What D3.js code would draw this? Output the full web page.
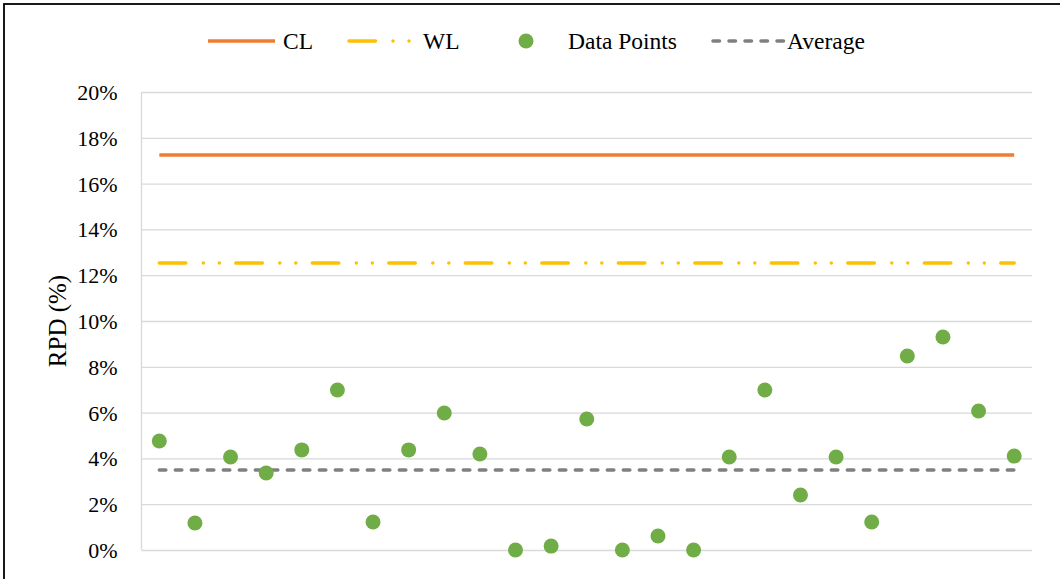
<!DOCTYPE html>
<html>
<head>
<meta charset="utf-8">
<script src="https://cdn.jsdelivr.net/npm/d3@7"></script>
<style>
  html, body { margin: 0; padding: 0; background: #fff; }
  svg { display: block; }
  text { font-family: "Liberation Serif", "Times New Roman", serif; fill: #000; }
</style>
</head>
<body>
<svg id="chart" width="1060" height="579"></svg>
<script>
// ---- data ----
const categories = d3.range(1, 26);
const rpdValues = [4.76, 1.18, 4.06, 3.36, 4.37, 6.99, 1.22, 4.37, 5.98, 4.19,
                   0.00, 0.17, 5.72, 0.00, 0.61, 0.00, 4.06, 6.99, 2.40, 4.06,
                   1.22, 8.47, 9.30, 6.07, 4.10];
const clValue = 17.25;
const wlValue = 12.53;
const avgValue = 3.49;
const yTicks = [0, 2, 4, 6, 8, 10, 12, 14, 16, 18, 20];
const legendLabels = ["CL", "WL", "Data Points", "Average"];

// ---- layout ----
const svg = d3.select("#chart");
const W = 1060, H = 579;
const plot = { left: 141.5, right: 1032, top: 92, bottom: 550 };

const colors = { cl: "#ED7D31", wl: "#FFC000", pts: "#70AD47", avg: "#7F7F7F", grid: "#D9D9D9" };

// outer frame (cropped on right/bottom)
svg.append("rect").attr("x", 4).attr("y", 4).attr("width", W + 20).attr("height", H + 20)
  .attr("fill", "none").attr("stroke", "#000").attr("stroke-width", 1.8);

const x = d3.scaleBand().domain(categories).range([plot.left, plot.right]).padding(0);
const cx = d => x(d) + x.bandwidth() / 2;
const y = d3.scaleLinear().domain([0, 20]).range([plot.bottom, plot.top]);

// gridlines
const yAxis = d3.axisLeft(y).tickValues(yTicks).tickSize(-(plot.right - plot.left))
  .tickFormat(d => d + "%").tickPadding(24);
const gy = svg.append("g").attr("transform", `translate(${plot.left},0)`).call(yAxis);
gy.select(".domain").attr("stroke", colors.grid).attr("stroke-width", 1.3)
  .attr("d", `M0,${plot.top}V${plot.bottom}`);
gy.selectAll(".tick line").attr("stroke", colors.grid).attr("stroke-width", 1.3);
gy.selectAll(".tick text").attr("font-size", "22px")
  .attr("font-family", '"Liberation Serif", "Times New Roman", serif')
  .attr("fill", "#000").attr("dy", "0.34em");

// axis title
svg.append("text")
  .attr("transform", `translate(66,${(plot.top + plot.bottom) / 2}) rotate(-90)`)
  .attr("text-anchor", "middle").attr("font-size", "25px").text("RPD (%)");

// reference lines
const first = categories[0], last = categories[categories.length - 1];
function hline(val, color, width, dash) {
  const l = svg.append("line")
    .attr("x1", cx(first)).attr("x2", cx(last))
    .attr("y1", y(val)).attr("y2", y(val))
    .attr("stroke", color).attr("stroke-width", width);
  if (dash) l.attr("stroke-dasharray", dash).attr("stroke-linecap", "round");
  return l;
}
const wlDash = "26.5,17.5,0,16,0,16.5";
const avgDash = "6.5,9.5";
hline(clValue, colors.cl, 3.5, null);
hline(wlValue, colors.wl, 3.5, wlDash);
hline(avgValue, colors.avg, 3.5, avgDash);

// points
svg.append("g").selectAll("circle").data(rpdValues).enter().append("circle")
  .attr("cx", (d, i) => cx(categories[i]))
  .attr("cy", d => y(d))
  .attr("r", 7.5)
  .attr("fill", colors.pts);

// legend
const ly = 41;
const lg = svg.append("g");
lg.append("line").attr("x1", 208).attr("x2", 275).attr("y1", ly).attr("y2", ly)
  .attr("stroke", colors.cl).attr("stroke-width", 3.5);
lg.append("text").attr("x", 283).attr("y", ly).attr("dy", "0.33em").attr("font-size", "23.5px").text(legendLabels[0]);

lg.append("line").attr("x1", 349).attr("x2", 410).attr("y1", ly).attr("y2", ly)
  .attr("stroke", colors.wl).attr("stroke-width", 3.5)
  .attr("stroke-dasharray", wlDash).attr("stroke-linecap", "round");
lg.append("text").attr("x", 423).attr("y", ly).attr("dy", "0.33em").attr("font-size", "23.5px").text(legendLabels[1]);

lg.append("circle").attr("cx", 526).attr("cy", ly).attr("r", 7.5).attr("fill", colors.pts);
lg.append("text").attr("x", 568).attr("y", ly).attr("dy", "0.33em").attr("font-size", "23.5px").text(legendLabels[2]);

lg.append("line").attr("x1", 713).attr("x2", 784).attr("y1", ly).attr("y2", ly)
  .attr("stroke", colors.avg).attr("stroke-width", 3.5)
  .attr("stroke-dasharray", avgDash).attr("stroke-linecap", "round");
lg.append("text").attr("x", 787).attr("y", ly).attr("dy", "0.33em").attr("font-size", "23.5px").text(legendLabels[3]);
</script>
</body>
</html>
